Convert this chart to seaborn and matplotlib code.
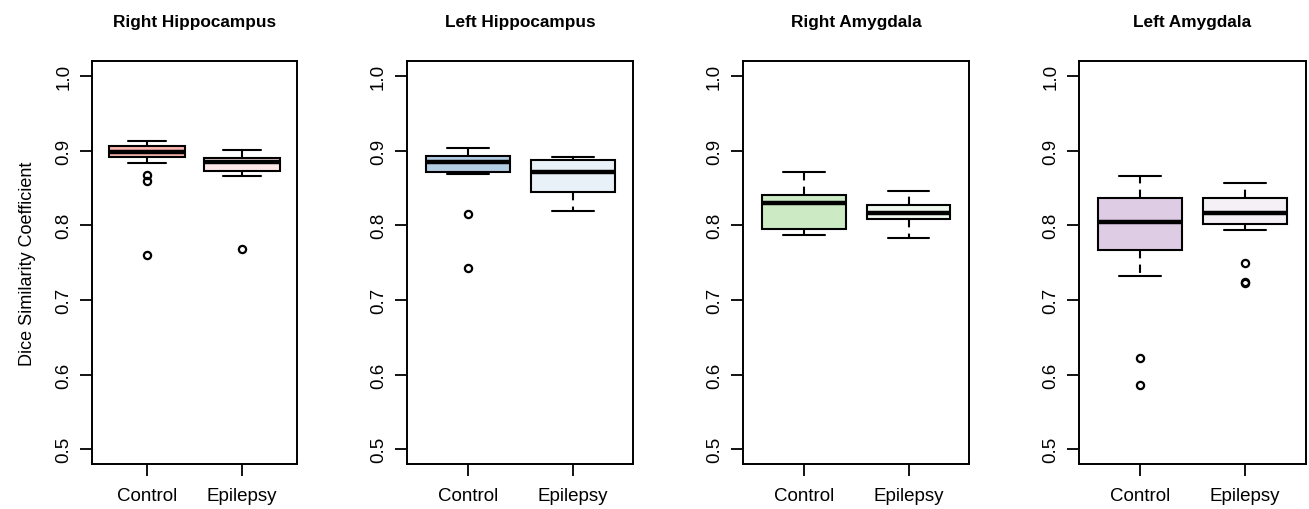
import seaborn as sns
import matplotlib.pyplot as plt
import pandas as pd

# group names and panel titles
groups = ["Control", "Epilepsy"]
titles = ["Right Hippocampus", "Left Hippocampus", "Right Amygdala", "Left Amygdala"]

# Dice values per subject (hinges, whiskers, outliers)
right_hippo_control = [0.760, 0.860, 0.867, 0.884, 0.8915, 0.893, 0.895, 0.897, 0.8985,
                       0.900, 0.902, 0.904, 0.9065, 0.908, 0.910, 0.911, 0.913]
right_hippo_epilepsy = [0.7685, 0.866, 0.868, 0.871, 0.8735, 0.876, 0.879, 0.882, 0.8847,
                        0.886, 0.887, 0.889, 0.890, 0.893, 0.896, 0.899, 0.9016]
left_hippo_control = [0.7433, 0.8153, 0.8685, 0.870, 0.8716, 0.875, 0.879, 0.882, 0.8846,
                      0.886, 0.888, 0.890, 0.8927, 0.895, 0.898, 0.901, 0.9034]
left_hippo_epilepsy = [0.8198, 0.828, 0.835, 0.840, 0.8444, 0.851, 0.858, 0.865, 0.8712,
                       0.875, 0.879, 0.883, 0.8873, 0.888, 0.889, 0.8905, 0.8918]
right_amyg_control = [0.7876, 0.789, 0.791, 0.793, 0.7947, 0.802, 0.811, 0.820, 0.830,
                      0.832, 0.835, 0.838, 0.8408, 0.846, 0.853, 0.862, 0.8721]
right_amyg_epilepsy = [0.7835, 0.795, 0.803, 0.806, 0.8086, 0.811, 0.813, 0.815, 0.8171,
                       0.819, 0.821, 0.824, 0.8269, 0.830, 0.835, 0.840, 0.8462]
left_amyg_control = [0.5859, 0.6225, 0.7321, 0.750, 0.767, 0.778, 0.788, 0.797, 0.8041,
                     0.812, 0.820, 0.829, 0.8368, 0.842, 0.850, 0.858, 0.8663]
left_amyg_epilepsy = [0.7225, 0.7240, 0.7495, 0.7934, 0.8023, 0.806, 0.810, 0.813, 0.8162,
                      0.820, 0.825, 0.830, 0.8363, 0.840, 0.846, 0.851, 0.8564]

control_colors = ["#FBB4AE", "#B3CDE3", "#CCEBC5", "#DECBE4"]
epilepsy_colors = ["#FEE8E7", "#E8F0F8", "#F0F9EE", "#F5EFF6"]

y_ticks = [0.5, 0.6, 0.7, 0.8, 0.9, 1.0]

panels = [
    (right_hippo_control, right_hippo_epilepsy),
    (left_hippo_control, left_hippo_epilepsy),
    (right_amyg_control, right_amyg_epilepsy),
    (left_amyg_control, left_amyg_epilepsy),
]

sns.set_style("ticks")
plt.rcParams["font.family"] = ["Liberation Sans", "DejaVu Sans"]
plt.rcParams.update({
    "text.color": "black", "axes.labelcolor": "black",
    "xtick.color": "black", "ytick.color": "black",
})

fig = plt.figure(figsize=(13.09, 5.10), dpi=100)

# axes rectangles (left, bottom, width, height) in figure fractions
lefts = [0.0705, 0.311, 0.5676, 0.8245]
widths = [0.1566, 0.1729, 0.1729, 0.1729]
bottom, height = 0.088, 0.790

for i, (ctrl, epi) in enumerate(panels):
    ax = fig.add_axes([lefts[i], bottom, widths[i], height])
    df = pd.DataFrame({
        "group": ["Control"] * len(ctrl) + ["Epilepsy"] * len(epi),
        "dice": ctrl + epi,
    })
    sns.boxplot(
        data=df, x="group", y="dice", hue="group", order=groups, hue_order=groups,
        palette=[control_colors[i], epilepsy_colors[i]], saturation=1, legend=False,
        width=0.8, linewidth=1.5, linecolor="black", ax=ax,
        whiskerprops={"linestyle": (0, (4, 3))},
        medianprops={"linewidth": 3.2},
        flierprops={"marker": "o", "markerfacecolor": "none", "markeredgecolor": "black",
                    "markersize": 5.2, "markeredgewidth": 1.6},
    )
    ax.set_xlim(-0.58, 1.58)
    ax.set_ylim(0.48, 1.02)
    ax.set_yticks(y_ticks)
    ax.set_yticklabels([f"{t:.1f}" for t in y_ticks])
    ax.tick_params(axis="y", labelrotation=90, length=8.5, width=1.3, labelsize=13.5, pad=6)
    ax.tick_params(axis="x", length=8.5, width=1.3, labelsize=13.5, pad=8)
    for lbl in ax.get_yticklabels():
        lbl.set_verticalalignment("center")
    for sp in ax.spines.values():
        sp.set_linewidth(1.4)
        sp.set_color("black")
    ax.set_xlabel("")
    if i == 0:
        ax.set_ylabel("Dice Similarity Coefficient", fontsize=13, labelpad=14)
    else:
        ax.set_ylabel("")
    ax.set_title(titles[i], fontsize=12.4, fontweight="bold", pad=25)

fig.savefig("out.png", dpi=100)
